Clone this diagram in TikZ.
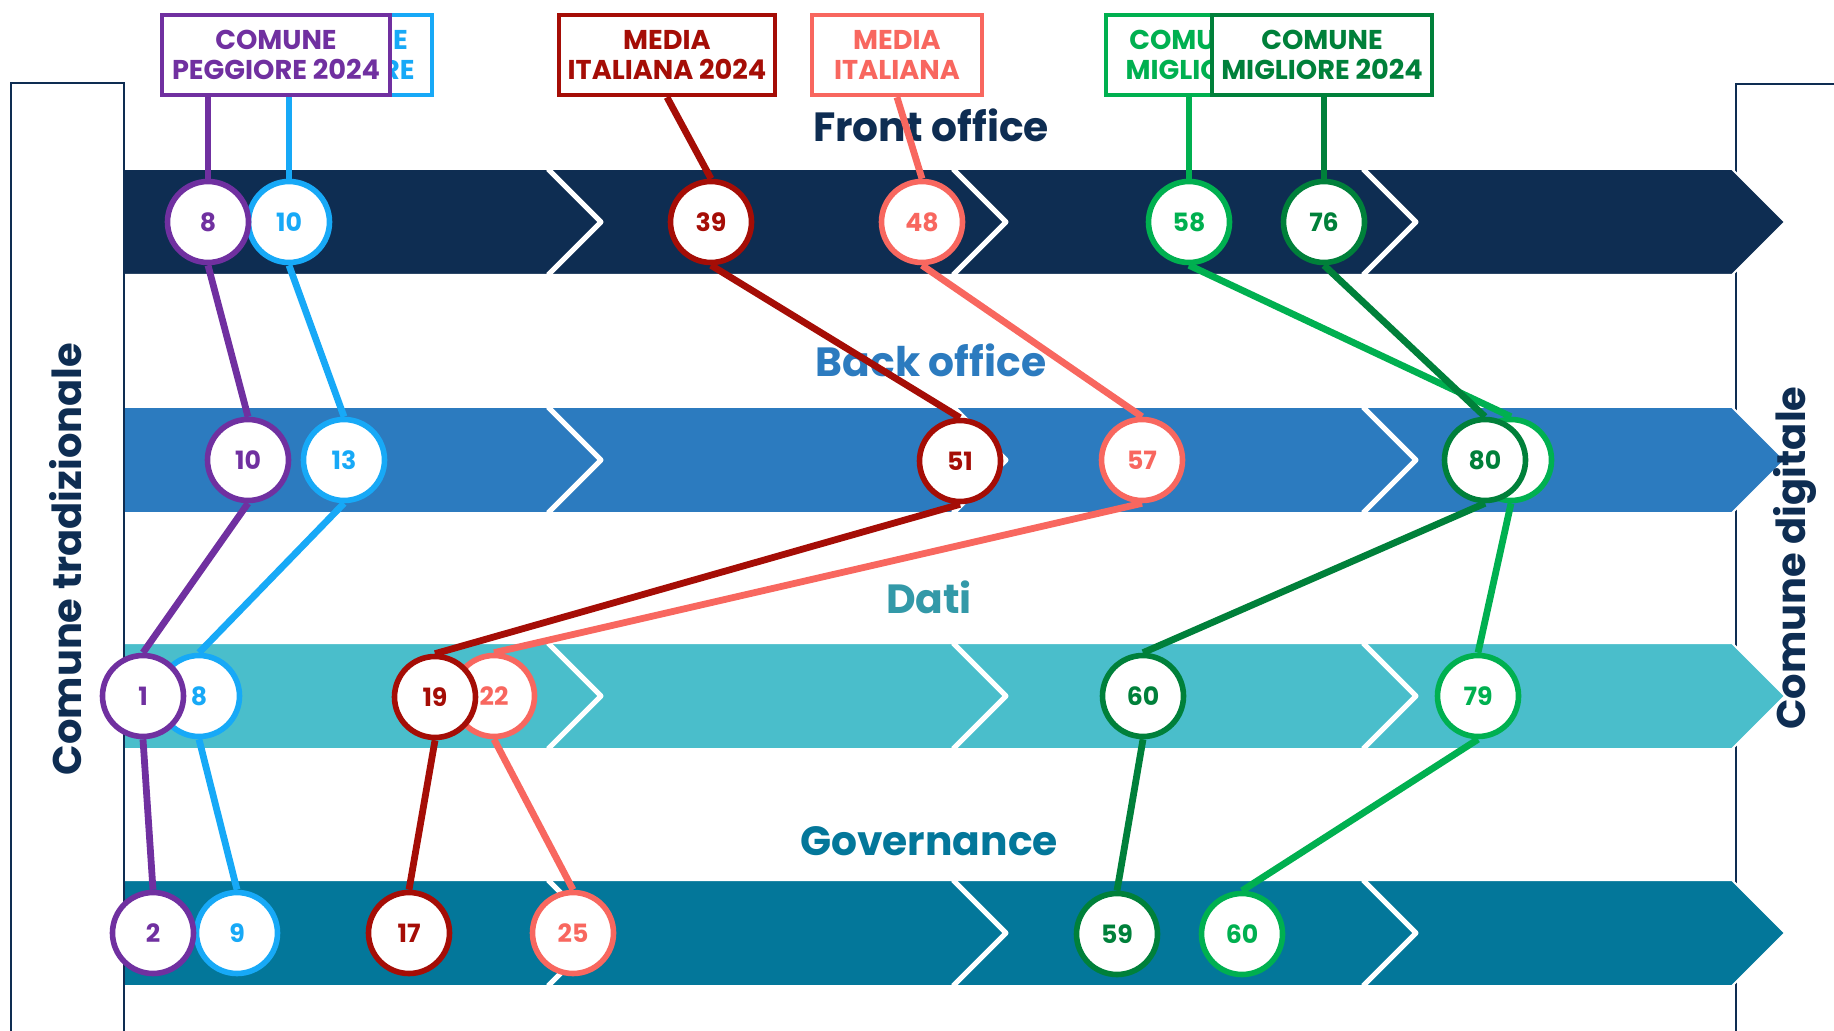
\documentclass[tikz,border=0pt]{standalone}
\usepackage{fontspec}
\setmainfont{Poppins}
\usetikzlibrary{backgrounds}
\definecolor{navy}{HTML}{0E2D52}
\definecolor{backblue}{HTML}{2C7BBF}
\definecolor{datiteal}{HTML}{4ABECB}
\definecolor{datitxt}{HTML}{3399A8}
\definecolor{govteal}{HTML}{03779A}
\definecolor{pegg24}{HTML}{7030A0}
\definecolor{pegg}{HTML}{17A9F7}
\definecolor{media24}{HTML}{A50D06}
\definecolor{media}{HTML}{F8675F}
\definecolor{migl24}{HTML}{00803A}
\definecolor{migl}{HTML}{00B050}

\begin{document}
\begin{tikzpicture}[x=0.5pt, y=-0.5pt]
        \tikzstyle{val} = [circle, fill=white, line width=2.8pt, minimum size=40.5pt, inner sep=0pt, font=\bfseries\fontsize{12.6}{12.6}\selectfont]
        \tikzstyle{tag} = [rectangle, fill=white, line width=2.25pt, minimum height=40pt, inner sep=0pt, align=center, font=\bfseries\fontsize{13.6}{15}\selectfont]
        \tikzstyle{link} = [line width=3.4pt]
        \tikzstyle{bandname} = [anchor=base, font=\bfseries\fontsize{20.4}{20.4}\selectfont]
        \tikzstyle{side} = [rotate=90, text=navy, font=\bfseries\fontsize{20}{20}\selectfont]
        \tikzstyle{chev} = [white, line width=2.5pt, line join=round]
        \tikzstyle{rim} = [white, line width=1pt]
        \useasboundingbox (0,0) rectangle (1834,1031);
        \begin{scope}[on background layer]
        \draw[navy, line width=1pt] (11,1031) -- (11,83) -- (124,83) -- (124,1031);
        \draw[navy, line width=1pt] (1834,84) -- (1736,84) -- (1736,1031);
        % bands
        \fill[navy] (125,169) -- (1732,169) -- (1785,222) -- (1732,275) -- (125,275) -- cycle;
        \draw[rim] (125,169) -- (1732,169) -- (1785,222) -- (1732,275) -- (125,275);
        \fill[backblue] (125,407) -- (1732,407) -- (1785,460) -- (1732,513) -- (125,513) -- cycle;
        \draw[rim] (125,407) -- (1732,407) -- (1785,460) -- (1732,513) -- (125,513);
        \fill[datiteal] (125,643) -- (1732,643) -- (1785,696) -- (1732,749) -- (125,749) -- cycle;
        \draw[rim] (125,643) -- (1732,643) -- (1785,696) -- (1732,749) -- (125,749);
        \fill[govteal] (125,880) -- (1732,880) -- (1785,933) -- (1732,986) -- (125,986) -- cycle;
        \draw[rim] (125,880) -- (1732,880) -- (1785,933) -- (1732,986) -- (125,986);
        \draw[chev] (548,169) -- (601,222) -- (548,275);
        \draw[chev] (953,169) -- (1006,222) -- (953,275);
        \draw[chev] (1363,169) -- (1416,222) -- (1363,275);
        \draw[chev] (548,407) -- (601,460) -- (548,513);
        \draw[chev] (953,407) -- (1006,460) -- (953,513);
        \draw[chev] (1363,407) -- (1416,460) -- (1363,513);
        \draw[chev] (548,643) -- (601,696) -- (548,749);
        \draw[chev] (953,643) -- (1006,696) -- (953,749);
        \draw[chev] (1363,643) -- (1416,696) -- (1363,749);
        \draw[chev] (548,880) -- (601,933) -- (548,986);
        \draw[chev] (953,880) -- (1006,933) -- (953,986);
        \draw[chev] (1363,880) -- (1416,933) -- (1363,986);
        \node[bandname, text=navy] (front) at (931,142) {Front office};
        \node[bandname, text=backblue] (back) at (931,377) {Back office};
        \node[bandname, text=datitxt] (dati) at (929,613) {Dati};
        \node[bandname, text=govteal] (gov) at (929,855) {Governance};
        \end{scope}
        % comune peggiore
        \node[val, draw=pegg, text=pegg] (pb1) at (289,222) {10};
        \node[val, draw=pegg, text=pegg] (pb2) at (344,460) {13};
        \node[val, draw=pegg, text=pegg] (pb3) at (199,696) {8};
        \node[val, draw=pegg, text=pegg] (pb4) at (237,933) {9};
        \node[val, draw=pegg24, text=pegg24] (pg1) at (208,222) {8};
        \node[val, draw=pegg24, text=pegg24] (pg2) at (248,460) {10};
        \node[val, draw=pegg24, text=pegg24] (pg3) at (143,696) {1};
        \node[val, draw=pegg24, text=pegg24] (pg4) at (153,933) {2};
        % media italiana
        \node[val, draw=media, text=media] (ms1) at (922,222) {48};
        \node[val, draw=media, text=media] (ms2) at (1142,460) {57};
        \node[val, draw=media, text=media] (ms3) at (494,696) {22};
        \node[val, draw=media, text=media] (ms4) at (573,933) {25};
        \node[val, draw=media24, text=media24] (mr1) at (711,222) {39};
        \node[val, draw=media24, text=media24] (mr2) at (960,461) {51};
        \node[val, draw=media24, text=media24] (mr3) at (435,697) {19};
        \node[val, draw=media24, text=media24] (mr4) at (409,933) {17};
        % comune migliore
        \node[val, draw=migl, text=migl] (bl1) at (1189,222) {58};
        \node[val, draw=migl, text=migl] (bl2) at (1511,460) {};
        \node[val, draw=migl, text=migl] (bl3) at (1478,696) {79};
        \node[val, draw=migl, text=migl] (bl4) at (1242,934) {60};
        \node[val, draw=migl24, text=migl24] (bd1) at (1324,222) {76};
        \node[val, draw=migl24, text=migl24] (bd2) at (1485,460) {80};
        \node[val, draw=migl24, text=migl24] (bd3) at (1143,696) {60};
        \node[val, draw=migl24, text=migl24] (bd4) at (1117,934) {59};
        % legend boxes
        \node[tag, draw=pegg, text=pegg, minimum width=85pt] (pbtag) at (347,55) {COMUNE\\PEGGIORE};
        \node[tag, draw=pegg24, text=pegg24, minimum width=114pt] (pgtag) at (276,55) {COMUNE\\PEGGIORE 2024};
        \node[tag, draw=media24, text=media24, minimum width=108pt] (mrtag) at (667,55) {MEDIA\\ITALIANA 2024};
        \node[tag, draw=media, text=media, minimum width=85pt] (mstag) at (897,55) {MEDIA\\ITALIANA};
        \node[tag, draw=migl, text=migl, minimum width=84pt] (bltag) at (1190,55) {COMUNE\\MIGLIORE};
        \node[tag, draw=migl24, text=migl24, minimum width=110pt] (bdtag) at (1322,55) {COMUNE\\MIGLIORE 2024};
        \begin{scope}[on background layer]
        \draw[link, pegg] (pbtag.south -| pb1) -- (pb1.north);
        \draw[link, pegg] (pb1.south) -- (pb2.north);
        \draw[link, pegg] (pb2.south) -- (pb3.north);
        \draw[link, pegg] (pb3.south) -- (pb4.north);
        \draw[link, pegg24] (pgtag.south -| pg1) -- (pg1.north);
        \draw[link, pegg24] (pg1.south) -- (pg2.north);
        \draw[link, pegg24] (pg2.south) -- (pg3.north);
        \draw[link, pegg24] (pg3.south) -- (pg4.north);
        \draw[link, media] (mstag.south) -- (ms1.north);
        \draw[link, media] (ms1.south) -- (ms2.north);
        \draw[link, media] (ms2.south) -- (ms3.north);
        \draw[link, media] (ms3.south) -- (ms4.north);
        \draw[link, media24] (mrtag.south) -- (mr1.north);
        \draw[link, media24] (mr1.south) -- (mr2.north);
        \draw[link, media24] (mr2.south) -- (mr3.north);
        \draw[link, media24] (mr3.south) -- (mr4.north);
        \draw[link, migl] (bltag.south -| bl1) -- (bl1.north);
        \draw[link, migl] (bl1.south) -- (bl2.north);
        \draw[link, migl] (bl2.south) -- (bl3.north);
        \draw[link, migl] (bl3.south) -- (bl4.north);
        \draw[link, migl24] (bdtag.south -| bd1) -- (bd1.north);
        \draw[link, migl24] (bd1.south) -- (bd2.north);
        \draw[link, migl24] (bd2.south) -- (bd3.north);
        \draw[link, migl24] (bd3.south) -- (bd4.north);
        \end{scope}
        \node[side] (trad) at (66,559) {Comune tradizionale};
        \node[side] (digi) at (1795,558) {Comune digitale};
\end{tikzpicture}
\end{document}
